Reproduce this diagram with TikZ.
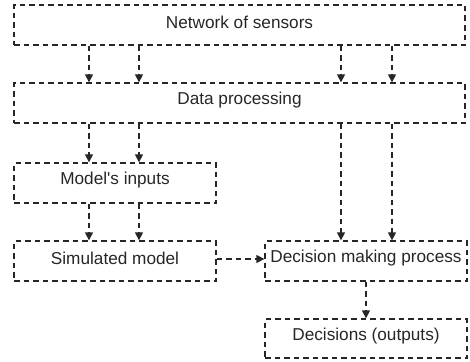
\documentclass[tikz,border=0pt]{standalone}
\usepackage{fontspec}
\setmainfont{Liberation Sans}
\usetikzlibrary{arrows.meta}
\begin{document}
\begin{tikzpicture}[x=1pt,y=-1pt,
  box/.style={draw=black!85, line width=1.3pt, dash pattern=on 5.5pt off 4pt, rectangle, inner sep=0pt,
    font=\fontsize{17.2}{20}\selectfont, text=black!85},
  lbl/.style={inner sep=0pt, font=\fontsize{17.2}{20}\selectfont, text=black!85},
  arr/.style={draw=black!85, line width=1.3pt, dash pattern=on 5.5pt off 4pt,
    -{Triangle[width=8pt,length=8pt]}}]
\useasboundingbox (0,0) rectangle (470,361);
\node[box, minimum width=451pt, minimum height=40pt] (net) at (239.5,25) {};
\node[box, minimum width=451pt, minimum height=40pt] (dp) at (239.5,103) {};
\node[box, minimum width=202pt, minimum height=40pt] (mi) at (115,183) {};
\node[box, minimum width=202pt, minimum height=40pt] (sm) at (115,261) {};
\node[box, minimum width=202pt, minimum height=40pt] (dmp) at (366,261) {};
\node[box, minimum width=202pt, minimum height=39pt] (dec) at (366,338.5) {};
\node[lbl] (netl) at ([yshift=2.5pt]net.center) {Network of sensors};
\node[lbl] (dpl) at ([yshift=2.5pt]dp.center) {Data processing};
\node[lbl] (mil) at ([yshift=2.5pt]mi.center) {Model\textquotesingle s inputs};
\node[lbl] (sml) at ([yshift=2.5pt]sm.center) {Simulated model};
\node[lbl] (dmpl) at ([yshift=2.5pt]dmp.center) {Decision making process};
\node[lbl] (decl) at ([yshift=2.5pt]dec.center) {Decisions (outputs)};
\foreach \x in {89,139,341,392}{
  \draw[arr] (net.south -| \x,0) -- (dp.north -| \x,0);
}
\foreach \x in {89,139}{
  \draw[arr] (dp.south -| \x,0) -- (mi.north -| \x,0);
  \draw[arr] (mi.south -| \x,0) -- (sm.north -| \x,0);
}
\foreach \x in {341,392}{
  \draw[arr] (dp.south -| \x,0) -- (dmp.north -| \x,0);
}
\draw[arr] ([yshift=2pt]sm.east) -- ([yshift=2pt]dmp.west);
\draw[arr] (dmp.south) -- (dec.north);
\end{tikzpicture}
\end{document}
